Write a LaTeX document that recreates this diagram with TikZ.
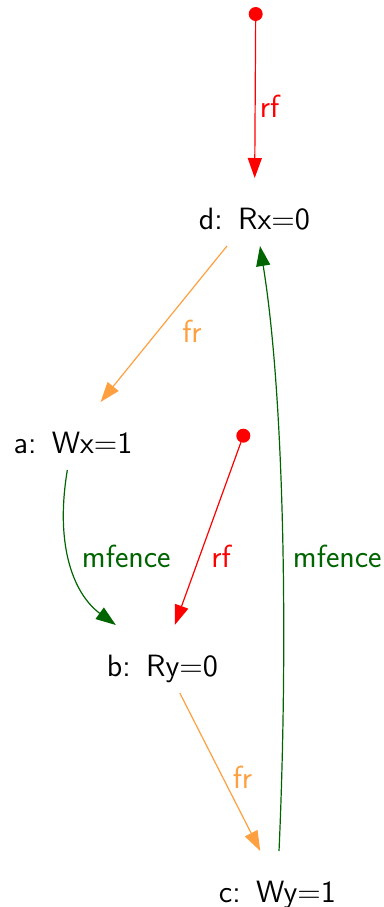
\documentclass[tikz,border=0pt]{standalone}
\definecolor{rfred}{RGB}{255, 0, 0}
\definecolor{frorange}{RGB}{255, 160, 64}
\definecolor{fencegreen}{RGB}{0, 100, 0}
\usetikzlibrary{arrows.meta}
\tikzset{
	event/.style={rectangle, inner sep=0pt, outer sep=0pt, text height=25.5pt, text depth=8.5pt, anchor=base, font=\fontsize{15.4}{18}\sffamily},
	init/.style={circle, fill=rfred, inner sep=0pt, outer sep=0pt, minimum size=7pt},
	lbl/.style={inner sep=0pt, font=\fontsize{16}{19}\sffamily},
	rfarrow/.style={-{Triangle[length=10pt, width=7pt]}, line width=0.6pt, draw=rfred},
	frarrow/.style={-{Triangle[length=10pt, width=7pt]}, line width=0.6pt, draw=frorange},
	fencearrow/.style={-{Triangle[length=10pt, width=7pt]}, line width=0.6pt, draw=fencegreen},
}

\begin{document}
\begin{tikzpicture}[x=0.5pt, y=-0.5pt]
		\useasboundingbox (0,0) rectangle (384,907);
		\node[event] (d) at (254.5,229) {d:\enspace Rx=0};
		\node[event] (a) at (73,453) {a:\enspace Wx=1};
		\node[event] (b) at (162.5,676) {b:\enspace Ry=0};
		\node[event] (c) at (277.5,902) {c:\enspace Wy=1};
		\node[init] (iniX) at (255.7,14) {};
		\node[init] (iniY) at (243.3,435.7) {};
		\draw[rfarrow] (iniX) -- (d);
		\draw[frarrow] (d) -- (a);
		\draw[fencearrow] (a) .. controls (54,550) and (76,596) .. (b);
		\draw[rfarrow] (iniY) -- (b);
		\draw[frarrow] (b) -- (c);
		\draw[fencearrow] (c) .. controls (288,650) and (285,400) .. (d);
		\node[lbl, text=rfred] (rfX) at (269.5,106) {rf};
		\node[lbl, text=frorange] (frDA) at (192,331) {fr};
		\node[lbl, text=fencegreen] (fenceAB) at (126.3,556) {mfence};
		\node[lbl, text=rfred] (rfY) at (221,556.7) {rf};
		\node[lbl, text=fencegreen] (fenceCD) at (337.3,556) {mfence};
		\node[lbl, text=frorange] (frBC) at (242.5,777.5) {fr};
	\end{tikzpicture}
\end{document}
